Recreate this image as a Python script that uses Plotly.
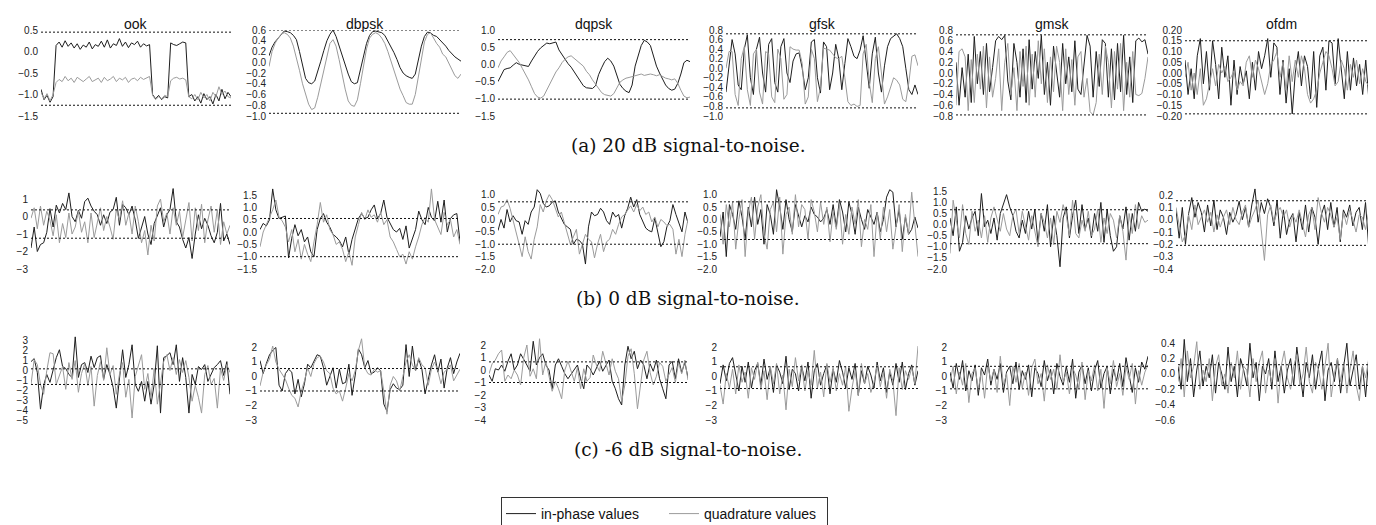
import plotly.graph_objects as go

# ---------------- data ----------------
modulations = ["ook", "dbpsk", "dqpsk", "gfsk", "gmsk", "ofdm"]
captions = ["(a) 20 dB signal-to-noise.", "(b) 0 dB signal-to-noise.", "(c) -6 dB signal-to-noise."]
series_names = ["in-phase values", "quadrature values"]

# ---- 20 dB ----
ook_20_i = [-0.88, -1.12, -1.02, -1.18, -1.05,
            0.14, 0.22, 0.10, 0.25, 0.12, 0.20, 0.08, 0.18, 0.05, 0.15,
            0.10, 0.22, 0.06, 0.16, 0.12, 0.24, 0.10, 0.27, 0.08, 0.18,
            0.14, 0.30, 0.12, 0.22, 0.09, 0.20, 0.16, 0.24, 0.10, 0.18, 0.13, 0.16,
            -1.0, -1.10, -1.02, -1.12, -1.05, -1.08,
            0.20, 0.16, 0.14, 0.18, 0.22, 0.20,
            -1.05, -1.0, -1.15, -1.05, -1.2, -0.98, -1.12, -1.05, -1.22, -1.0, -1.15, -0.88, -1.1, -0.95, -1.05]
ook_20_q = [-0.95, -1.1, -0.98, -1.15, -1.0,
            -0.72, -0.65, -0.70, -0.58, -0.68, -0.62, -0.72, -0.60, -0.66, -0.70,
            -0.64, -0.58, -0.70, -0.66, -0.62, -0.72, -0.60, -0.68, -0.64, -0.58,
            -0.70, -0.62, -0.66, -0.60, -0.72, -0.64, -0.62, -0.68, -0.60, -0.65, -0.62, -0.58,
            -1.02, -1.12, -1.05, -1.10, -1.02, -1.05,
            -0.68, -0.62, -0.60, -0.64, -0.62, -0.66,
            -1.05, -1.1, -1.0, -1.12, -0.95, -1.08, -1.0, -1.15, -0.95, -1.05, -0.82, -1.0, -0.92, -1.05, -1.08]
dbpsk_20_i = [0.12, 0.28, 0.38, 0.45, 0.52, 0.58, 0.57, 0.55, 0.50, 0.42, 0.20, -0.05, -0.30, -0.38, -0.40, -0.35,
              -0.18, 0.02, 0.22, 0.40, 0.52, 0.60, 0.48, 0.30, 0.12, -0.05, -0.22, -0.36, -0.40, -0.38, -0.15, 0.10,
              0.35, 0.50, 0.57, 0.58, 0.56, 0.55, 0.50, 0.40, 0.28, 0.18, 0.05, -0.10, -0.20, -0.25, -0.28, -0.30,
              -0.22, 0.05, 0.30, 0.48, 0.56, 0.55, 0.50, 0.48, 0.42, 0.35, 0.30, 0.22, 0.15, 0.10, 0.06, 0.02]
dbpsk_20_q = [-0.08, 0.20, 0.35, 0.45, 0.52, 0.55, 0.52, 0.45, 0.30, 0.10, -0.15, -0.40, -0.60, -0.78, -0.88, -0.85,
              -0.65, -0.40, -0.15, 0.15, 0.35, 0.42, 0.30, 0.05, -0.25, -0.50, -0.72, -0.80, -0.82, -0.70, -0.40, -0.05,
              0.25, 0.45, 0.52, 0.55, 0.52, 0.45, 0.35, 0.20, 0.02, -0.18, -0.35, -0.50, -0.62, -0.75, -0.78, -0.78,
              -0.60, -0.25, 0.10, 0.38, 0.52, 0.55, 0.45, 0.35, 0.28, 0.15, 0.10, -0.02, -0.12, -0.25, -0.30, -0.22]
dqpsk_20_i = [-0.50, -0.30, -0.15, -0.12, -0.10, -0.02, 0.05, 0.0, -0.02, -0.05, -0.06, 0.10, 0.25, 0.38, 0.48, 0.55,
              0.62, 0.60, 0.62, 0.65, 0.42, 0.28, 0.15, 0.02, -0.08, -0.22, -0.35, -0.48, -0.62, -0.68, -0.70, -0.70,
              -0.62, -0.30, -0.10, 0.08, 0.18, 0.10, -0.05, -0.35, -0.58, -0.70, -0.78, -0.82, -0.60, -0.05, 0.25, 0.55,
              0.70, 0.65, 0.55, 0.25, -0.05, -0.25, -0.45, -0.60, -0.70, -0.75, -0.72, -0.55, -0.28, 0.05, 0.12, 0.08]
dqpsk_20_q = [-0.10, 0.10, 0.22, 0.35, 0.40, 0.28, 0.18, 0.05, -0.12, -0.28, -0.45, -0.65, -0.85, -0.95, -0.98, -0.92,
              -0.75, -0.55, -0.38, -0.22, -0.10, 0.05, 0.15, 0.22, 0.25, 0.18, 0.10, 0.02, -0.05, -0.20, -0.30, -0.45,
              -0.58, -0.72, -0.82, -0.88, -0.90, -0.92, -0.85, -0.70, -0.52, -0.45, -0.40, -0.38, -0.35, -0.32, -0.30, -0.28,
              -0.32, -0.30, -0.28, -0.30, -0.33, -0.30, -0.35, -0.40, -0.42, -0.45, -0.42, -0.55, -0.75, -0.92, -0.97, -0.95]
gfsk_20_i = [-0.50, 0.10, 0.60, 0.30, -0.35, -0.45, 0.40, 0.70, -0.20, -0.55, 0.40, 0.65, -0.10, -0.50, 0.50, 0.62,
             -0.30, -0.50, 0.45, 0.62, -0.10, -0.30, 0.15, 0.30, 0.32, 0.00, -0.45, -0.20, 0.55, 0.60, -0.20, -0.52,
             0.55, 0.45, -0.45, -0.10, 0.50, 0.20, -0.45, 0.10, 0.62, 0.45, 0.25, 0.20, 0.38, 0.68, 0.10, -0.42,
             0.30, 0.65, -0.10, -0.50, 0.05, 0.45, 0.62, 0.68, 0.72, 0.62, 0.45, 0.00, -0.45, -0.55, -0.35, -0.55]
gfsk_20_q = [0.00, 0.35, 0.35, -0.55, -0.78, 0.20, 0.45, -0.45, -0.78, 0.30, 0.40, -0.50, -0.75, 0.35, 0.30, -0.60,
             -0.72, 0.40, 0.20, -0.65, -0.55, 0.45, 0.40, 0.38, 0.38, 0.10, -0.75, -0.60, 0.40, 0.20, -0.70, -0.40,
             0.42, 0.40, 0.38, 0.30, 0.22, 0.20, 0.25, -0.20, -0.70, -0.78, -0.75, -0.80, -0.78, 0.30, 0.50, -0.30,
             -0.72, 0.20, 0.45, -0.10, -0.75, -0.60, -0.40, -0.20, -0.25, -0.35, -0.65, -0.70, -0.30, 0.25, 0.28, 0.05]
gmsk_20_i = [0.20, -0.60, 0.10, -0.45, 0.35, -0.55, 0.68, -0.20, 0.40, -0.40, 0.55, -0.35, 0.10, 0.60, 0.68, 0.62,
             0.70, -0.15, -0.50, 0.55, 0.20, -0.45, 0.45, -0.55, 0.62, -0.30, 0.40, -0.10, 0.70, -0.40, 0.20, -0.60,
             0.50, 0.05, -0.45, 0.55, -0.20, 0.30, -0.35, 0.60, -0.30, -0.40, 0.10, 0.70, 0.50, -0.45, 0.40, -0.25,
             0.62, 0.55, -0.45, 0.45, -0.50, 0.55, -0.35, 0.70, -0.40, 0.30, -0.55, 0.60, 0.65, 0.58, 0.62, 0.35]
gmsk_20_q = [-0.60, 0.40, 0.45, 0.30, -0.70, 0.25, -0.55, 0.35, -0.30, 0.50, -0.65, 0.30, -0.45, -0.10, 0.45, -0.70,
             0.20, 0.55, -0.40, 0.10, -0.70, 0.40, -0.25, 0.50, -0.60, 0.35, -0.45, 0.60, -0.20, 0.45, -0.55, 0.30,
             -0.35, 0.50, 0.20, -0.70, 0.45, -0.40, 0.25, -0.60, 0.30, 0.40, -0.45, -0.10, -0.72, -0.78, -0.55, 0.35,
             -0.40, 0.50, 0.20, -0.65, 0.40, -0.30, 0.55, -0.70, 0.20, -0.45, 0.40, -0.40, -0.42, -0.38, -0.10, 0.30]
ofdm_20_i = [0.06, -0.10, 0.02, -0.12, 0.08, 0.16, -0.05, 0.10, -0.08, 0.15, 0.04, -0.12, 0.12, -0.02, 0.08, -0.15,
             0.06, -0.10, 0.03, -0.05, 0.01, -0.12, 0.05, -0.08, 0.10, 0.02, 0.08, 0.16, -0.02, 0.14, 0.12, -0.10,
             0.06, -0.14, 0.02, -0.19, 0.00, 0.10, -0.06, 0.08, 0.03, -0.12, 0.10, -0.16, 0.08, 0.12, -0.08, 0.15,
             0.14, -0.05, 0.16, 0.02, -0.12, 0.10, -0.08, 0.07, -0.06, 0.04, -0.10, 0.06, -0.12, 0.08, 0.00, 0.01]
ofdm_20_q = [-0.02, 0.05, -0.08, 0.00, -0.10, 0.02, -0.15, -0.12, -0.05, 0.02, -0.06, 0.04, 0.00, 0.03, -0.04, -0.02,
             0.01, -0.08, -0.04, -0.06, 0.05, 0.08, -0.02, 0.06, 0.02, -0.04, -0.10, -0.05, 0.04, 0.06, 0.10, -0.02,
             0.05, -0.08, 0.08, -0.04, 0.06, -0.02, 0.08, 0.02, -0.10, -0.14, -0.12, -0.08, 0.00, 0.05, 0.10, 0.08,
             0.02, -0.06, -0.04, 0.06, 0.02, -0.08, 0.04, -0.02, 0.06, -0.05, 0.02, -0.04, -0.06, 0.00, -0.02, -0.06]

# ---- 0 dB ----
ook_0_i = [-1.8, -0.6, -2.0, -1.6, -1.5, -0.9, 0.45, -0.6, 0.65, 0.2, 0.75, 0.4, 1.35, 0.0, -0.3, 0.35,
           -0.1, 0.85, 1.05, 0.6, 0.3, 0.1, -0.5, 0.1, -0.4, 0.25, 0.4, 1.1, -0.5, 0.7, 0.5, 0.1,
           0.6, -0.2, -1.25, -0.6, 0.0, -1.0, -1.6, -0.4, 0.1, 0.5, -0.6, 0.1, 0.4, 1.6, -0.3, -0.6,
           -1.3, -1.8, -1.2, -2.4, -1.0, 0.1, -0.7, -0.1, -0.5, -1.1, -1.5, -0.9, 0.75, -1.4, -1.0, -1.6]
ook_0_q = [-0.1, 0.5, -0.7, 0.6, -0.5, 0.3, -0.2, -1.1, 0.1, -1.5, -0.4, -1.2, 0.2, -1.0, -0.6, 0.3,
           -0.9, -0.3, -1.5, 0.2, -1.2, -0.4, 0.5, -0.8, 0.0, -0.6, -1.3, 0.4, -0.2, 0.9, -0.5, 0.2,
           -1.0, 0.6, -0.3, -1.5, -0.8, -2.2, -0.5, -1.4, 0.6, 1.0, -0.3, 0.2, -1.0, 0.5, -0.5, 0.3,
           -1.2, -0.2, 0.8, -1.4, 0.5, -0.8, 0.7, -1.5, -0.2, 0.6, -0.9, 0.4, -1.6, -0.3, -1.0, -0.5]
dbpsk_0_i = [0.1, 0.35, 0.25, 0.5, 1.75, 0.9, 0.55, 0.6, 0.65, -1.05, -0.25, 0.3, -0.15, 0.1, -0.4, -0.2,
             -0.8, -1.0, 0.1, 0.55, 0.75, 0.4, 0.2, -0.1, -0.2, -0.35, -0.6, -0.2, -0.9, -0.3, 0.15, 0.55,
             0.75, 0.55, 0.6, 0.9, 1.1, 0.55, 0.75, 1.3, 0.6, 0.35, 0.1, 0.0, 0.15, -0.3, 0.25, -0.65,
             -0.25, 0.1, 0.85, 0.5, 0.3, 1.0, 0.6, 0.45, 1.25, 0.4, 1.3, 0.0, 0.55, 0.7, 0.75, -0.4]
dbpsk_0_q = [-0.6, 0.0, 0.3, 0.6, 0.9, 1.3, 0.6, 0.45, 0.2, -0.4, 0.1, -0.8, -0.3, -1.1, -0.5, -0.9,
             -1.2, -0.4, 0.3, 1.2, 0.4, 0.7, 0.1, -0.1, -0.5, -0.4, -0.7, -1.2, -0.8, -1.35, -0.2, 0.3,
             0.8, 0.5, 0.9, 0.6, 0.7, 0.4, 0.8, 0.3, 0.5, -0.2, -0.4, -0.7, -1.0, -0.9, -1.3, -0.8,
             -1.1, -0.6, -0.2, 0.3, 0.6, 0.4, 1.75, 0.5, 0.2, -0.1, 0.8, 0.3, 0.5, -0.2, 0.1, -0.5]
dqpsk_0_i = [-0.45, 0.0, -0.35, 0.4, -0.1, 0.15, -0.05, -0.1, -0.6, -0.05, -0.2, 0.3, 0.5, 1.2, 1.05, 0.65,
             0.5, 0.55, 0.7, 0.75, 0.3, 0.05, -0.2, -0.3, -0.4, -1.0, -0.8, -0.85, -1.0, -1.8, -0.3, 0.3,
             0.15, 0.2, 0.45, 0.3, -0.05, -0.2, 0.3, 0.1, 0.2, -0.35, 0.15, 0.45, 0.9, 0.5, 0.8, 0.2,
             -0.1, -0.35, -0.45, -0.5, 0.05, -0.55, -1.1, -0.9, -0.3, -0.05, 0.6, 0.2, -0.2, -0.5, 0.3, -0.15]
dqpsk_0_q = [0.2, 0.5, 0.55, 0.8, 0.45, 0.0, -0.5, -1.0, -1.5, -0.7, -1.3, -1.6, -0.8, -0.3, 0.6, 0.3,
             0.75, 1.0, 0.8, 0.4, 0.1, 0.3, -0.1, -0.5, -1.0, -0.7, -0.4, -1.4, -1.0, -0.6, -0.8, -0.9,
             -1.55, -1.0, -0.6, -1.3, -0.9, -0.8, -0.4, -0.6, -0.2, 0.1, 0.2, 0.4, 0.55, 0.3, 0.6, 0.35,
             0.5, 0.2, 0.3, -0.1, 0.1, -0.3, 0.0, -0.1, -0.25, -0.2, -0.4, -1.4, -0.8, -1.5, -0.6, 0.0]
gfsk_0_i = [-0.7, 0.3, -1.5, 0.6, 0.2, -0.4, 0.75, 0.1, -0.8, 0.5, -0.3, 0.9, -0.2, 0.4, -1.0, 0.6,
            0.2, -0.6, 1.2, 0.5, -0.4, 0.8, 0.0, -0.5, 0.6, 0.1, -0.3, 0.15, -0.1, 0.5, 0.2, 0.1,
            -0.1, 0.05, 0.4, -0.2, 0.6, -0.3, 0.8, 0.3, -0.5, 0.7, 0.2, -0.6, 0.5, 0.0, -0.4, 0.4,
            0.1, -0.2, 0.3, -0.5, 0.0, 0.9, 1.2, 1.1, -0.3, 0.4, -0.8, 0.1, -0.6, -0.4, 0.1, -0.35]
gfsk_0_q = [0.2, -1.0, 0.6, -0.3, 0.7, -1.2, 0.0, 0.8, -1.5, 0.3, 0.9, -0.8, 0.5, 1.0, -0.6, -1.2,
            0.4, 0.7, -0.5, 0.9, -1.4, 0.2, 0.5, -0.6, 1.0, -0.3, 0.6, 0.4, -0.8, 0.8, 0.3, -0.5,
            0.7, -0.2, 0.5, -0.9, 0.3, -0.4, 0.6, -1.0, 0.2, -0.6, 0.5, -0.2, 0.8, -1.1, 0.0, -0.4,
            0.6, -1.5, 0.3, -0.8, 0.5, -0.5, 0.4, -1.2, -0.3, 0.6, -1.3, 0.2, -0.6, 1.1, -0.2, -1.5]
gmsk_0_i = [0.3, -0.5, 0.8, -1.2, -0.8, 0.4, -0.2, 0.3, 0.6, -0.5, 1.4, -0.1, 0.2, -0.4, 0.3, -0.7,
            0.5, 0.9, 1.35, 0.8, 0.4, -0.3, -0.6, 0.2, -0.4, 0.6, -0.2, 0.7, -0.8, 0.5, -0.3, 0.9,
            -1.0, 0.4, -0.5, -1.9, 0.3, 0.8, -0.6, 0.4, 1.1, -0.4, 0.9, -0.2, 0.3, -0.6, 0.5, -0.3,
            1.0, -0.8, 0.7, -0.5, -1.2, -1.0, 0.4, -0.2, 0.8, -0.7, 0.5, -0.3, 1.0, 0.6, 0.7, 0.6]
gmsk_0_q = [-1.3, 1.1, 0.2, -0.6, 0.9, -0.4, -0.9, 0.6, -0.3, 0.2, -0.6, 0.4, -0.8, 0.3, 0.8, 0.2,
            -0.3, 0.5, -0.2, -0.5, 0.4, 0.7, -0.4, 0.6, 0.0, -0.7, 0.4, -0.3, -1.0, 0.5, 0.1, -0.6,
            0.3, -0.9, 0.6, 0.1, 0.9, 0.4, -0.5, 1.1, -0.4, -0.6, 0.2, -0.3, 0.6, -0.5, -0.2, 0.7,
            -0.8, 0.3, -0.4, 0.5, 0.2, -0.6, 0.4, -0.3, -1.6, 0.5, -0.4, 0.9, -0.2, 0.4, 0.1, 0.2]
ofdm_0_i = [0.08, -0.15, 0.10, -0.20, 0.05, 0.18, 0.02, 0.14, 0.06, -0.10, 0.12, -0.05, 0.16, -0.08, 0.08, 0.02,
            -0.12, 0.06, -0.02, 0.04, 0.15, 0.00, 0.10, -0.06, 0.12, 0.25, -0.02, 0.14, 0.05, 0.17, 0.10, -0.05,
            0.16, -0.15, 0.08, -0.12, 0.00, 0.05, -0.18, 0.06, -0.08, 0.12, -0.10, 0.10, 0.02, -0.20, 0.04, 0.12,
            -0.08, 0.14, -0.06, 0.10, -0.18, 0.08, 0.02, 0.12, -0.05, 0.06, 0.10, -0.08, 0.14, -0.22, 0.05, 0.02]
ofdm_0_q = [0.10, -0.05, -0.18, -0.12, 0.04, -0.08, 0.12, -0.04, 0.02, 0.08, -0.02, 0.06, -0.10, 0.04, -0.06, 0.02,
            0.08, -0.04, 0.10, 0.00, -0.04, 0.06, 0.12, -0.06, 0.02, 0.08, 0.16, -0.10, -0.33, 0.04, 0.12, -0.02,
            0.06, 0.10, 0.02, 0.08, -0.06, 0.04, -0.02, 0.08, -0.04, -0.14, 0.04, 0.10, -0.08, 0.18, 0.06, -0.02,
            0.10, 0.04, -0.06, 0.02, -0.16, 0.06, -0.04, 0.08, 0.00, -0.10, 0.04, 0.02, -0.08, 0.06, 0.10, -0.04]

# ---- -6 dB ----
ook_m6_i = [0.9, 1.2, -0.2, -3.9, -1.5, -0.4, -1.2, 0.1, 1.3, 2.1, 0.4, 0.2, -0.4, -0.7, 3.4, -0.7,
            0.6, 0.8, -0.2, 1.45, 0.3, 1.3, 1.5, -0.9, 0.6, -0.4, -1.7, -3.8, -0.6, 2.1, -0.7, 0.6,
            2.6, -1.4, -2.1, -1.1, -3.1, -1.1, -3.4, -1.4, 2.5, -4.3, 1.3, 1.5, 1.8, 0.6, 2.6, -1.1,
            1.3, -0.7, -4.3, -0.4, -1.4, 0.4, 0.1, 0.6, -1.1, -0.4, 0.3, 0.6, 1.0, -0.5, 0.9, -2.4]
ook_m6_q = [-1.4, 1.1, 0.6, -1.4, -2.4, 0.0, 1.8, 1.7, -1.4, -0.6, 0.4, -1.9, 0.8, -0.9, 1.0, -2.2,
            -0.3, 0.7, -1.5, 0.4, -3.6, -0.5, 0.9, -1.0, 2.3, -0.4, 0.5, -2.4, -0.4, 0.8, -2.7, -0.9,
            -4.8, -0.6, 0.6, 1.6, -1.9, -0.3, -2.8, 0.2, -3.4, -1.0, 0.9, 1.6, 0.0, 1.3, -0.4, 1.1,
            -0.2, 1.0, -0.7, -3.1, -1.5, -2.7, -4.3, -0.4, 0.5, -1.4, -0.8, -3.8, 0.2, -1.0, 0.6, -0.2]
dbpsk_m6_i = [1.1, 0.2, 0.9, 1.5, 1.8, 2.0, -0.6, -1.0, 0.2, 0.5, 0.3, -1.2, -0.2, -1.4, -0.5, 0.85,
              0.6, 1.1, 1.5, 1.4, 0.6, -0.6, 0.0, 0.6, -0.8, 0.5, -0.5, -0.4, 0.85, -1.3, 0.1, 1.9,
              1.5, 0.6, 1.1, 0.2, 0.3, 0.6, 0.4, -1.9, -2.4, -0.9, -0.5, -0.8, -0.9, -0.6, 2.2, 0.0,
              2.1, 0.4, 1.2, 0.5, -1.2, -0.1, 0.8, 1.5, 0.3, 1.2, -0.8, 0.6, 1.3, 0.2, 1.0, 1.6]
dbpsk_m6_q = [-0.65, 0.3, 0.8, 1.2, 2.1, 1.0, 0.5, 0.1, -0.2, -0.8, -1.3, -1.5, -2.1, -1.0, -0.3, 0.6,
              0.0, 0.9, 1.3, 1.4, 1.0, 0.4, 0.2, -0.8, -1.2, -1.0, -1.7, -0.8, 0.2, -0.3, 0.4, 1.8,
              2.6, 0.6, 0.2, 0.1, 0.5, 0.3, 0.4, -1.0, -2.6, -0.6, 0.0, -0.3, -1.0, 0.0, 1.0, 1.5,
              0.8, 0.4, 1.3, 0.8, 0.6, -0.6, 0.5, 1.0, 0.4, -0.5, 0.3, 0.5, 0.8, -0.3, 0.1, 0.5]
dqpsk_m6_i = [-0.4, -0.9, 0.1, 0.0, 0.4, -0.1, 0.7, 1.3, 0.0, 0.4, 1.3, 0.9, 0.4, -0.1, 2.3, 0.4,
              1.0, 1.3, 0.4, 0.0, -1.5, 0.4, 0.9, 0.3, -0.3, -0.7, -0.3, 0.0, 0.4, -0.7, -1.5, 0.4,
              0.1, -0.4, 0.1, 0.7, -0.1, 0.4, 0.8, -0.9, -1.5, -2.3, -2.8, 0.4, 1.9, 0.9, 1.5, 0.1,
              0.8, 0.4, -0.7, 0.5, -0.1, 0.8, -0.7, -1.5, -2.3, 0.4, 0.7, -0.7, 0.9, -0.2, 0.6, -0.6]
dqpsk_m6_q = [-0.3, 0.5, 0.8, 1.3, 1.6, -0.9, -0.4, -0.7, 0.0, -0.4, -1.2, 1.0, 2.0, -0.5, 0.1, -0.7,
              2.5, -0.4, 0.7, -0.4, -1.7, -0.9, -1.5, -2.3, 0.0, 0.7, -0.2, -0.9, 0.2, -1.5, 0.1, -0.9,
              -0.6, 1.2, 0.4, -0.1, 1.5, 0.5, -0.4, 0.9, -0.1, -0.7, -2.5, -1.2, 1.1, 1.7, -0.3, -3.1,
              -1.0, 0.8, 1.5, -0.2, -1.2, -0.5, 0.6, 0.3, -0.9, -0.4, 0.2, -1.0, 0.6, -0.3, 0.8, -0.8]
gfsk_m6_i = [-0.5, 0.8, -0.3, 0.9, 1.3, 0.2, -1.0, 0.7, -0.4, 1.0, -0.8, 0.4, 0.9, -0.6, 1.2, -0.2,
             0.6, -1.1, 0.8, 0.3, -0.5, 1.4, -0.9, 0.5, 0.2, -1.0, 0.7, -0.3, 1.0, -1.5, 0.4, 0.9,
             -0.6, 0.2, 0.8, -1.2, 0.5, -0.4, 1.1, 0.3, -0.8, 0.6, -0.2, 0.9, -1.3, 0.4, -0.5, 0.7,
             0.1, -0.8, 1.0, -0.3, 0.6, -1.1, 0.3, -0.6, 0.9, -0.4, 1.0, -0.9, 0.2, 0.8, -0.6, 0.4]
gfsk_m6_q = [-0.6, -1.9, 0.2, -0.8, 0.5, -1.2, 0.8, -0.4, 0.3, -1.5, 0.6, -0.2, 1.0, -0.9, 0.4, -1.6,
             0.7, -0.5, 0.9, -1.2, 0.1, -2.3, 0.5, -0.7, 1.3, -0.3, 0.8, -1.0, 0.4, -0.6, 1.8, -0.8,
             0.3, -1.4, 0.9, -0.4, 0.6, -1.0, 0.2, -0.6, 0.7, -2.4, -0.8, 0.4, -1.3, 0.9, -0.5, 0.2,
             -1.1, -0.4, 0.8, -0.7, 0.3, -1.5, 0.5, -0.3, -2.7, 0.6, -0.9, 0.4, -0.2, 0.6, -0.5, 2.1]
gmsk_m6_i = [0.3, -0.8, 0.9, -0.2, 1.1, -1.0, 0.4, -0.3, 0.8, -1.3, 0.6, 0.1, 1.2, -0.6, 0.5, -0.2,
             0.9, -1.1, 0.3, 0.7, -0.5, 1.0, -0.9, 0.4, -0.2, 0.8, -1.4, 0.6, 0.2, -0.7, 1.1, -0.3,
             0.5, -1.2, 0.9, 0.0, -0.6, 0.7, -0.4, 1.2, -1.5, 0.3, 0.8, -0.5, 0.6, -1.0, 0.4, 1.1,
             -0.8, 0.2, 0.7, -1.2, 0.5, -0.3, 0.9, -0.7, 1.3, 0.2, -1.1, 0.6, -0.4, 1.0, 0.5, 1.4]
gmsk_m6_q = [-0.4, 0.7, -1.2, 0.3, -0.6, 0.9, -1.8, 0.2, 0.6, -0.9, 0.4, -1.5, 0.8, -0.3, 0.5, -1.1,
             1.4, -0.6, 0.2, -2.0, 0.7, -0.4, 0.9, -0.8, 0.3, -1.3, 0.6, 1.2, -0.5, 0.2, -1.7, 0.8,
             -0.2, 0.5, -0.9, 1.5, -0.4, 0.3, -1.2, 0.6, 0.1, -0.8, 1.0, -1.6, 0.4, -0.3, 0.8, -1.0,
             0.5, -2.2, 0.6, -0.5, 1.1, -0.7, 0.2, -1.3, 0.7, -0.2, 0.9, -1.9, 0.4, -0.6, 0.3, 0.8]
ofdm_m6_i = [0.1, -0.2, 0.45, -0.1, 0.2, -0.3, 0.05, 0.3, -0.15, 0.1, -0.05, 0.25, -0.25, 0.15, 0.0, -0.2,
             0.35, -0.1, 0.1, -0.3, 0.2, 0.05, -0.15, 0.4, -0.05, 0.15, -0.35, 0.1, 0.0, 0.2, -0.2, 0.3,
             -0.1, 0.1, -0.25, 0.05, 0.2, -0.15, 0.35, 0.0, -0.3, 0.15, -0.05, 0.25, -0.2, 0.1, 0.3, -0.35,
             0.05, 0.15, -0.1, 0.2, -0.25, 0.1, 0.4, -0.15, 0.05, 0.25, -0.2, 0.1, -0.3, 0.2, 0.0, 0.1]
ofdm_m6_q = [-0.1, 0.2, -0.3, 0.3, -0.05, 0.1, 0.42, -0.2, 0.05, -0.1, 0.2, -0.35, 0.1, 0.25, -0.15, 0.0,
             -0.25, 0.15, -0.05, 0.3, -0.2, 0.1, 0.05, -0.3, 0.2, -0.1, 0.15, 0.3, -0.25, 0.05, -0.1, 0.2,
             -0.38, 0.1, 0.3, -0.05, -0.2, 0.1, 0.25, -0.15, 0.0, 0.35, -0.1, -0.25, 0.15, 0.05, -0.2, 0.1,
             0.4, -0.3, 0.0, 0.2, -0.1, 0.15, -0.25, 0.05, 0.3, -0.15, -0.35, 0.1, -0.05, 0.2, -0.1, -0.05]

# dotted reference levels (upper, lower) per panel
ref_20 = [[0.45, -1.25], [0.6, -0.95], [0.72, -1.01], [0.72, -0.83], [0.71, -0.78], [0.15, -0.19]]
ref_0 = [[0.38, -1.24], [0.55, -1.0], [0.71, -1.0], [0.71, -0.81], [0.67, -0.86], [0.154, -0.208]]
ref_m6 = [[0.17, -1.41], [0.55, -1.0], [0.65, -1.0], [0.67, -0.83], [0.7, -0.85], [0.12, -0.15]]

# ---------------- layout configuration ----------------
W, H = 1376, 525
panel_series = [
    [(ook_20_i, ook_20_q), (dbpsk_20_i, dbpsk_20_q), (dqpsk_20_i, dqpsk_20_q),
     (gfsk_20_i, gfsk_20_q), (gmsk_20_i, gmsk_20_q), (ofdm_20_i, ofdm_20_q)],
    [(ook_0_i, ook_0_q), (dbpsk_0_i, dbpsk_0_q), (dqpsk_0_i, dqpsk_0_q),
     (gfsk_0_i, gfsk_0_q), (gmsk_0_i, gmsk_0_q), (ofdm_0_i, ofdm_0_q)],
    [(ook_m6_i, ook_m6_q), (dbpsk_m6_i, dbpsk_m6_q), (dqpsk_m6_i, dqpsk_m6_q),
     (gfsk_m6_i, gfsk_m6_q), (gmsk_m6_i, gmsk_m6_q), (ofdm_m6_i, ofdm_m6_q)],
]
panel_refs = [ref_20, ref_0, ref_m6]
# y-axis (low, high, step, format)
yaxes_cfg = [
    [(-1.5, 0.5, 0.5, ".1f"), (-1.0, 0.6, 0.2, ".1f"), (-1.5, 1.0, 0.5, ".1f"),
     (-1.0, 0.8, 0.2, ".1f"), (-0.8, 0.8, 0.2, ".1f"), (-0.2, 0.2, 0.05, ".2f")],
    [(-3, 1.86, 1, "d"), (-1.5, 1.95, 0.5, ".1f"), (-2.0, 1.43, 0.5, ".1f"),
     (-2.0, 1.43, 0.5, ".1f"), (-2.0, 1.83, 0.5, ".1f"), (-0.4, 0.29, 0.1, ".1f")],
    [(-5, 3.69, 1, "d"), (-3, 2.93, 1, "d"), (-4, 2.88, 1, "d"),
     (-3, 2.93, 1, "d"), (-3, 2.93, 1, "d"), (-0.6, 0.52, 0.2, ".1f")],
]
# pixel extents of each panel's plotting area
x_px = [
    [(33, 223), (261, 453), (490, 682), (718, 910), (948, 1140), (1177, 1370)],
    [(23, 222), (252, 452), (490, 680), (712, 910), (942, 1140), (1168, 1367)],
    [(23, 222), (252, 452), (481, 680), (712, 910), (942, 1140), (1170, 1367)],
]
y_px = [(22, 108), (176, 261), (326, 412)]
caption_y_px = [137, 290, 441]
caption_x_px = 680

IN_COLOR = "#1e1e1e"
Q_COLOR = "#9b9b9b"
TICK_FONT = dict(family="Liberation Sans, Arial, sans-serif", size=10, color="#222222")

fig = go.Figure()
layout = {}
shapes = []
annotations = []

k = 0
for r in range(3):
    for c in range(6):
        k += 1
        sfx = "" if k == 1 else str(k)
        xa, ya = "x" + sfx, "y" + sfx
        i_vals, q_vals = panel_series[r][c]
        n = max(len(i_vals), len(q_vals))
        fig.add_trace(go.Scatter(
            x=list(range(len(i_vals))), y=i_vals, xaxis=xa, yaxis=ya, mode="lines",
            line=dict(color=IN_COLOR, width=1), name=series_names[0],
            legendgroup="i", showlegend=(k == 1), hoverinfo="skip"))
        fig.add_trace(go.Scatter(
            x=list(range(len(q_vals))), y=q_vals, xaxis=xa, yaxis=ya, mode="lines",
            line=dict(color=Q_COLOR, width=1), name=series_names[1],
            legendgroup="q", showlegend=(k == 1), hoverinfo="skip"))
        x0, x1 = x_px[r][c]
        yt, yb = y_px[r]
        lo, hi, step, fmt = yaxes_cfg[r][c]
        layout["xaxis" + sfx] = dict(domain=[x0 / W, x1 / W], range=[0, n - 1], visible=False,
                                     anchor=ya, fixedrange=True)
        layout["yaxis" + sfx] = dict(domain=[1 - yb / H, 1 - yt / H], range=[lo, hi],
                                     tick0=lo, dtick=step, tickformat=fmt, showgrid=False,
                                     zeroline=False, showline=False, ticks="", tickfont=TICK_FONT,
                                     anchor=xa, fixedrange=True, ticklabelstandoff=2)
        for v in panel_refs[r][c]:
            shapes.append(dict(type="line", xref=xa + " domain", x0=0, x1=1, yref=ya, y0=v, y1=v,
                               line=dict(color="#111111", width=1, dash="2px,2px"), layer="above"))
        if r == 0:
            annotations.append(dict(text=modulations[c], xref="paper", yref="paper",
                                    x=(x0 + x1) / 2 / W, y=1 - 16 / H, xanchor="center", yanchor="middle",
                                    showarrow=False,
                                    font=dict(family="Liberation Sans, Arial, sans-serif", size=14, color="#111111")))

for r in range(3):
    annotations.append(dict(text=captions[r], xref="paper", yref="paper",
                            x=caption_x_px / W, y=1 - caption_y_px[r] / H, xanchor="center", yanchor="middle",
                            showarrow=False,
                            font=dict(family="DejaVu Serif, serif", size=18.5, color="#111111")))

fig.update_layout(
    width=W, height=H,
    margin=dict(l=0, r=0, t=0, b=0, autoexpand=False),
    paper_bgcolor="white", plot_bgcolor="white",
    font=dict(family="Liberation Sans, Arial, sans-serif", color="#111111"),
    shapes=shapes, annotations=annotations,
    showlegend=True,
    legend=dict(orientation="h", x=493 / W, xanchor="left", y=1 - 489 / H, yanchor="top",
                entrywidth=118, entrywidthmode="pixels",
                bordercolor="#333333", borderwidth=1, bgcolor="white",
                font=dict(family="Liberation Sans, Arial, sans-serif", size=14, color="#111111"),
                itemclick=False, itemdoubleclick=False),
    **layout,
)

fig.write_html("out.html")
